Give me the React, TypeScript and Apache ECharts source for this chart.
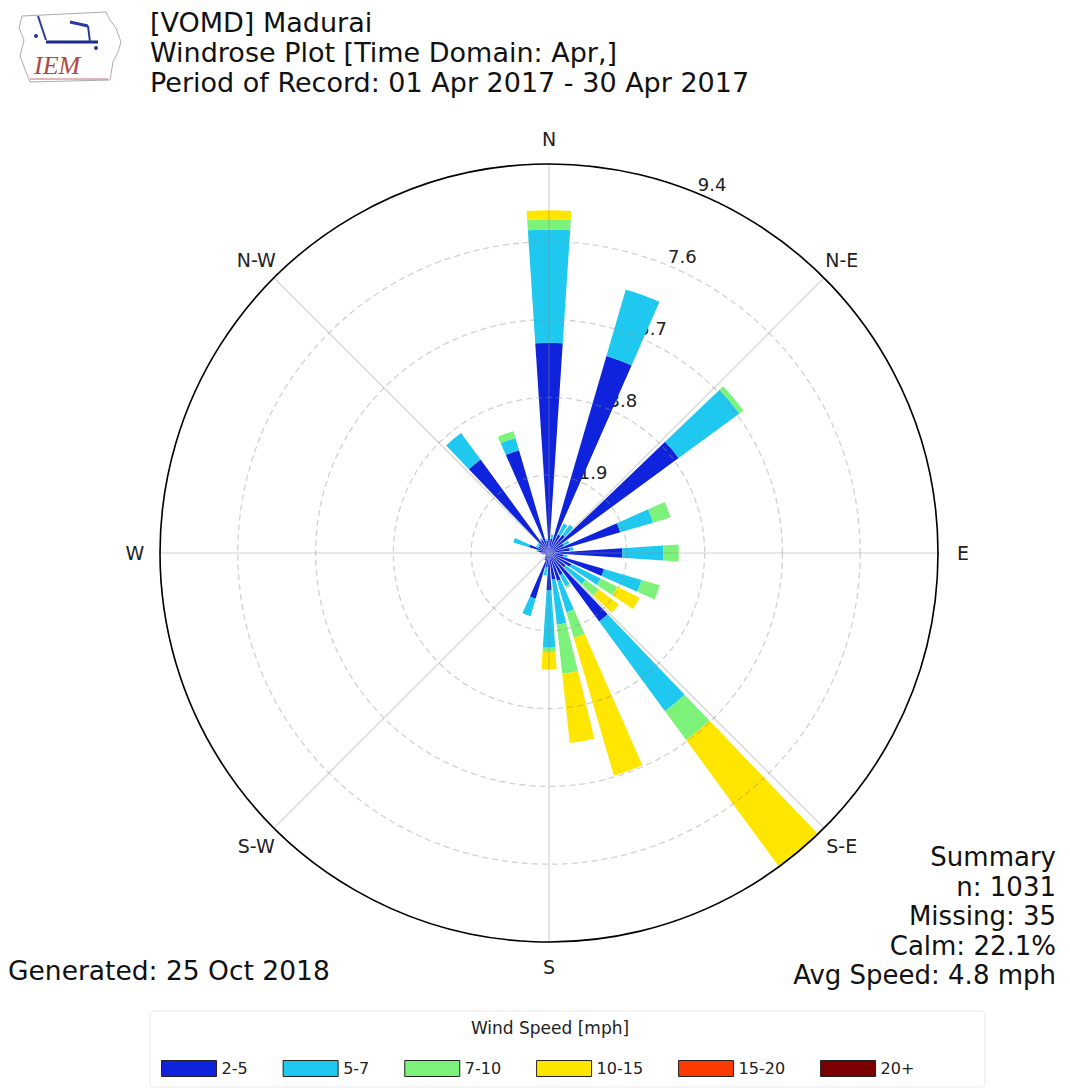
import React, { useEffect, useRef } from 'react';
import * as echarts from 'echarts';

// 36 direction bins (degrees, clockwise from North)
const directions = ['0','10','20','30','40','50','60','70','80','90','100','110','120','130','140','150','160','170','180','190','200','210','220','230','240','250','260','270','280','290','300','310','320','330','340','350'];

// Frequency (%) per speed class, per direction
const speed2to5 = [5.10,0.35,4.98,0.50,0.55,3.90,0.40,1.80,0.50,1.78,0.35,1.39,0.60,0.50,2.06,0.60,0.70,0.65,0.90,0.35,1.15,0.20,0.15,0.10,0.10,0.10,0.15,0.20,0.25,0.50,0.30,0.30,2.81,0.35,2.60,0.30];
const speed5to7 = [2.75,0.10,1.68,0.30,0.30,1.83,0.15,0.83,0.10,1.00,0.10,0.95,0.80,0.60,2.70,0.30,0.80,1.10,1.40,0.20,0.45,0,0,0,0,0,0,0,0.05,0.40,0.05,0.05,0.80,0.05,0.31,0.05];
const speed7to10 = [0.25,0,0,0,0,0.12,0,0.44,0,0.37,0,0.46,0.45,0.40,0.87,0.05,0.65,1.20,0.10,0,0,0,0,0,0,0,0,0,0,0,0,0,0,0,0.17,0];
const speed10to15 = [0.22,0,0,0,0,0,0,0,0,0,0,0,0.60,0.60,3.81,0,3.48,1.69,0.43,0,0,0,0,0,0,0,0,0,0,0,0,0,0,0,0,0];
const speed15to20 = [0,0,0,0,0,0,0,0,0,0,0,0,0,0,0,0,0,0,0,0,0,0,0,0,0,0,0,0,0,0,0,0,0,0,0,0];
const speed20plus = [0,0,0,0,0,0,0,0,0,0,0,0,0,0,0,0,0,0,0,0,0,0,0,0,0,0,0,0,0,0,0,0,0,0,0,0];

const speedNames = ['2-5', '5-7', '7-10', '10-15', '15-20', '20+'];
const speedColors = ['#0f22dc', '#1ec8ee', '#7df27a', '#ffe600', '#ff3a00', '#7a0000'];

const radiusMax = 9.44;
const ringLabels = ['1.9', '3.8', '5.7', '7.6', '9.4'];
const compassLabels = ['N', 'N-E', 'E', 'S-E', 'S', 'S-W', 'W', 'N-W'];
const compassAngles = [0, 45, 90, 135, 180, 225, 270, 315];

const titleLines = ['[VOMD] Madurai', 'Windrose Plot [Time Domain: Apr,]', 'Period of Record: 01 Apr 2017 - 30 Apr 2017'];
const summaryLines = ['Summary', 'n: 1031', 'Missing: 35', 'Calm: 22.1%', 'Avg Speed: 4.8 mph'];
const generatedText = 'Generated: 25 Oct 2018';

const FONT = '"DejaVu Sans", "Noto Sans", sans-serif';

export default function App() {
  const ref = useRef<HTMLDivElement>(null);

  useEffect(() => {
    if (!ref.current) return;
    const chart = echarts.init(ref.current, null, { renderer: 'svg' });
    const cx = 549;
    const cy = 553;
    const R = 389;

    const seriesData = [speed2to5, speed5to7, speed7to10, speed10to15, speed15to20, speed20plus];

    const graphics: any[] = [];

    // Logo
    graphics.push({
      type: 'group',
      children: [
        {
          type: 'polyline',
          shape: { points: [[22, 16], [106, 12], [110, 20], [116, 28], [121, 42], [118, 52], [113, 62], [110, 80], [30, 82], [26, 72], [20, 56], [24, 40], [19, 28], [22, 16]] },
          style: { stroke: '#b0a8a8', lineWidth: 1, fill: 'none' },
        },
        { type: 'line', shape: { x1: 38, y1: 16, x2: 46, y2: 40 }, style: { stroke: '#2a3a9a', lineWidth: 2 } },
        { type: 'line', shape: { x1: 46, y1: 42, x2: 98, y2: 42 }, style: { stroke: '#1a2a8a', lineWidth: 3 } },
        { type: 'line', shape: { x1: 70, y1: 22, x2: 88, y2: 26 }, style: { stroke: '#2a3a9a', lineWidth: 3 } },
        { type: 'line', shape: { x1: 88, y1: 26, x2: 90, y2: 42 }, style: { stroke: '#2a3a9a', lineWidth: 2 } },
        { type: 'circle', shape: { cx: 36, cy: 36, r: 2 }, style: { fill: '#2a3a9a' } },
        { type: 'circle', shape: { cx: 96, cy: 48, r: 2 }, style: { fill: '#2a3a9a' } },
        { type: 'text', style: { text: 'IEM', x: 34, y: 78, fill: '#b04848', font: 'italic 26px "Liberation Serif", serif', textAlign: 'left', verticalAlign: 'bottom' } },
        { type: 'line', shape: { x1: 30, y1: 79, x2: 108, y2: 79 }, style: { stroke: '#c07070', lineWidth: 1 } },
      ],
    });

    // Title
    titleLines.forEach((t, i) => {
      graphics.push({
        type: 'text',
        style: { text: t, x: 150, y: 22 + i * 30, fill: '#111', font: `27px ${FONT}`, textAlign: 'left', verticalAlign: 'middle' },
      });
    });

    // Ring labels (drawn below bars)
    const labAng = (22.5 * Math.PI) / 180;
    ringLabels.forEach((t, i) => {
      const r = ((i + 1) / ringLabels.length) * R;
      graphics.push({
        type: 'text',
        z: 0,
        style: { text: t, x: cx + r * Math.sin(labAng), y: cy - r * Math.cos(labAng), fill: '#222', font: `18px ${FONT}`, textAlign: 'left', verticalAlign: 'bottom' },
      });
    });

    // Compass labels
    compassLabels.forEach((t, i) => {
      const a = (compassAngles[i] * Math.PI) / 180;
      const r = 414;
      graphics.push({
        type: 'text',
        style: { text: t, x: cx + r * Math.sin(a), y: cy - r * Math.cos(a), fill: '#222', font: `19px ${FONT}`, textAlign: 'center', verticalAlign: 'middle' },
      });
    });

    // Summary
    summaryLines.forEach((t, i) => {
      graphics.push({
        type: 'text',
        style: { text: t, x: 1056, y: 857 + i * 29.5, fill: '#111', font: `26px ${FONT}`, textAlign: 'right', verticalAlign: 'middle' },
      });
    });

    graphics.push({
      type: 'text',
      style: { text: generatedText, x: 8, y: 970, fill: '#111', font: `26.5px ${FONT}`, textAlign: 'left', verticalAlign: 'middle' },
    });

    // Legend frame and title
    graphics.push({
      type: 'rect',
      shape: { x: 150, y: 1011, width: 835, height: 76, r: 4 },
      style: { fill: 'none', stroke: '#f0f0f0', lineWidth: 1.5 },
    });
    graphics.push({
      type: 'text',
      style: { text: 'Wind Speed [mph]', x: 550, y: 1028, fill: '#222', font: `17px ${FONT}`, textAlign: 'center', verticalAlign: 'middle' },
    });

    const option: any = {
      animation: false,
      backgroundColor: '#ffffff',
      polar: [
        { center: [cx, cy], radius: R },
        { center: [cx, cy], radius: R },
      ],
      angleAxis: [
        {
          polarIndex: 0,
          type: 'category',
          data: directions,
          startAngle: 95,
          clockwise: true,
          axisLine: { show: false },
          axisTick: { show: false },
          axisLabel: { show: false },
          splitLine: { show: false },
        },
        {
          polarIndex: 1,
          type: 'value',
          min: 0,
          max: 360,
          interval: 45,
          startAngle: 90,
          clockwise: true,
          z: 5,
          axisLine: { show: true, lineStyle: { color: '#000', width: 1.6 } },
          axisTick: { show: false },
          axisLabel: { show: false },
          splitLine: { show: true, lineStyle: { color: 'rgba(140,140,140,0.4)', width: 1.2 } },
        },
      ],
      radiusAxis: [
        {
          polarIndex: 0,
          type: 'value',
          min: 0,
          max: radiusMax,
          axisLine: { show: false },
          axisTick: { show: false },
          axisLabel: { show: false },
          splitLine: { show: false },
        },
        {
          polarIndex: 1,
          type: 'value',
          min: 0,
          max: radiusMax,
          interval: radiusMax / 5,
          z: 5,
          axisLine: { show: false },
          axisTick: { show: false },
          axisLabel: { show: false },
          splitLine: { show: true, lineStyle: { color: 'rgba(140,140,140,0.4)', width: 1.3, type: [6, 4] } },
        },
      ],
      legend: {
        data: speedNames,
        left: 156,
        top: 1055,
        itemWidth: 55,
        itemHeight: 16,
        itemGap: 35,
        icon: 'rect',
        selectedMode: false,
        textStyle: { fontSize: 16, fontFamily: FONT, color: '#222' },
        itemStyle: { borderColor: '#222', borderWidth: 1 },
      },
      graphic: graphics,
      series: speedNames.map((name, i) => ({
        name,
        type: 'bar',
        coordinateSystem: 'polar',
        polarIndex: 0,
        stack: 'wind',
        barWidth: '75%',
        data: seriesData[i],
        itemStyle: { color: speedColors[i] },
        z: 2,
        silent: true,
      })),
    };

    chart.setOption(option);
    return () => chart.dispose();
  }, []);

  return (
    <div
      ref={ref}
      style={{ position: 'absolute', left: 0, top: 0, width: 1070, height: 1090, background: '#fff' }}
    />
  );
}
